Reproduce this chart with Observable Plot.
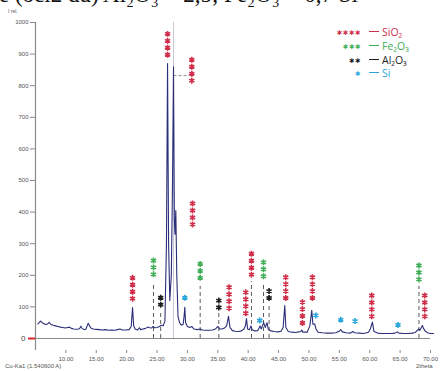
<!DOCTYPE html>
<html><head><meta charset="utf-8">
<script src="https://cdn.jsdelivr.net/npm/d3@7"></script>
<script src="https://cdn.jsdelivr.net/npm/@observablehq/plot@0.6"></script>
<style>
body{margin:0;background:#fff;}
#wrap{position:relative;width:441px;height:371px;overflow:hidden;font-family:"Liberation Sans",Arial,sans-serif;background:#fff;}
#wrap svg{position:absolute;left:0;top:0;}
.ov{position:absolute;white-space:nowrap;}
.lg{position:absolute;white-space:nowrap;font-family:"Open Sans","Noto Sans",sans-serif;font-size:10.5px;line-height:11px;}
.st{display:inline-block;text-align:right;width:30px;font-family:"DejaVu Sans";font-size:6.5px;letter-spacing:0.6px;vertical-align:1px;}
</style></head><body>
<div id="wrap"></div>
<script>
// Diffractogram profile (2theta in degrees, relative intensity)
const theta = [5.4,5.6,5.85,6.1,6.4,6.7,7.0,7.25,7.5,7.9,8.3,8.7,9.1,9.5,9.9,10.3,10.6,10.9,11.3,11.7,12.1,12.3,12.47,12.65,13.0,13.3,13.5,13.67,13.85,14.1,14.5,15.0,15.5,16.0,16.5,17.0,17.5,18.0,18.5,18.9,19.3,19.8,20.4,20.75,20.97,21.15,21.4,21.8,22.1,22.3,22.7,23.1,23.5,23.8,24.1,24.35,24.6,25.0,25.4,25.7,26.0,26.3,26.55,26.73,26.9,27.1,27.35,27.55,27.71,27.85,27.95,28.09,28.25,28.45,28.7,29.0,29.3,29.45,29.57,29.7,30.0,30.4,30.7,31.1,31.6,32.1,32.5,33.0,33.6,34.1,34.6,35.0,35.3,35.7,36.1,36.45,36.76,37.0,37.4,37.9,38.4,38.9,39.3,39.55,39.72,39.9,40.2,40.45,40.65,41.1,41.6,41.95,42.15,42.55,42.8,43.1,43.3,43.7,44.3,44.9,45.4,45.75,46.02,46.2,46.6,47.2,47.8,48.3,48.65,48.82,49.0,49.7,50.15,50.46,50.65,50.95,51.15,51.5,52.2,53.0,53.7,54.4,54.9,55.23,55.5,56.1,56.7,57.0,57.2,57.5,58.3,59.0,59.8,60.1,60.44,60.7,61.3,62.0,62.8,63.6,64.2,64.55,64.8,65.5,66.3,67.0,67.5,67.8,68.06,68.25,68.5,68.67,68.85,69.1,69.5,70.0,70.5];
const intensity = [46,50,55,50,47,44,46,51,45,42,40,38,36,35,33,35,36,32,30,29,30,33,39,32,28,30,40,48,42,33,30,29,28,27,28,26,27,26,28,30,27,27,28,38,98,40,30,27,34,28,30,32,36,34,33,38,34,35,38,42,40,55,300,870,300,120,200,500,860,380,330,405,200,70,50,42,45,70,99,50,38,35,38,30,28,30,27,26,26,27,30,38,30,30,33,40,70,35,25,23,22,24,30,40,63,30,28,40,28,24,25,40,30,50,35,50,30,24,22,21,23,35,104,35,22,20,19,21,22,27,20,20,40,89,45,46,30,20,18,17,17,18,22,28,21,18,17,19,22,18,17,16,20,30,52,22,17,16,16,16,17,21,17,16,16,17,19,25,30,26,35,41,32,24,18,16,16];

// Phase annotation groups (asterisk columns): phase, 2theta, intensity of the top asterisk
const groupPhase = ["SiO2","Fe2O3","Al2O3","SiO2","SiO2","SiO2","Si","Fe2O3","Al2O3","SiO2","SiO2","SiO2","Si","Fe2O3","Al2O3","SiO2","SiO2","SiO2","Si","Si","Si","SiO2","Si","Fe2O3","SiO2"];
const groupTheta = [20.97,24.42,25.6,26.73,30.72,30.84,29.57,32.1,35.17,36.86,39.6,40.54,41.9,42.52,43.44,46.18,48.93,50.57,51.12,55.23,57.58,60.33,64.65,68.1,69.05];
const groupTop   = [192,247,129,964,882,427,129,236,120,162,146,268,57,241,150,194,115,194,73,59,55,136,43,231,136];

// Dashed reference drop lines: 2theta, top intensity
const dropTheta = [24.42,25.6,32.1,35.17,40.54,42.52,43.44,68.1];
const dropTop   = [170,85,165,80,180,170,105,165];
// Leader line from the 27.7 peak to its label column
const leaderX1 = [27.8], leaderX2 = [30.35], leaderY = [832];
// Tall reference line at 27.71
const refTheta = [27.71];

// Legend / phases
const phases = ["SiO2","Fe2O3","Al2O3","Si"];
const phaseLabel = ["SiO₂","Fe₂O₃","Al₂O₃","Si"];
const phaseStars = [4,3,2,1];
const phaseColor = ["#cf2f4a","#3fae57","#1e1e1e","#2aa6dc"];

// Axis ticks
const yTicks = [100,200,300,400,500,600,700,800,900,1000];
const xTicks = [10,15,20,25,30,35,40,45,50,55,60,65,70];

const STEP = 22; // vertical spacing between stacked asterisks (intensity units)
const colorOf = Object.fromEntries(phases.map((p,i)=>[p,phaseColor[i]]));
const countOf = Object.fromEntries(phases.map((p,i)=>[p,phaseStars[i]]));

const profile = theta.map((t,i)=>({t, v:intensity[i]}));
const stars = [];
groupPhase.forEach((p,i)=>{
  for(let k=0;k<countOf[p];k++) stars.push({t:groupTheta[i], v:groupTop[i]-k*STEP, c:colorOf[p]});
});
const drops = dropTheta.map((t,i)=>({t, top:dropTop[i]}));

const chart = Plot.plot({
  width:441, height:371,
  marginLeft:35, marginRight:11, marginTop:22, marginBottom:21,
  x:{domain:[5,70]},
  y:{domain:[-38,1000]},
  style:{fontFamily:"Liberation Sans, Arial, sans-serif", fontSize:"6px", background:"transparent"},
  marks:[
    Plot.ruleY([0],{stroke:"#8a8a8a", strokeWidth:1}),
    Plot.ruleX([5],{stroke:"#8a8a8a", strokeWidth:1.2}),
    Plot.ruleX(refTheta,{y1:0, y2:1000, stroke:"#c9c9d6", strokeWidth:1}),
    Plot.ruleX(drops,{x:"t", y1:0, y2:"top", stroke:"#4a4a4a", strokeWidth:0.9, strokeDasharray:"4,3"}),
    Plot.ruleY(leaderY,{x1:leaderX1[0], x2:leaderX2[0], stroke:"#777", strokeWidth:0.8, strokeDasharray:"3,2"}),
    Plot.axisY(yTicks,{anchor:"left", tickSize:5, tickPadding:2, stroke:"#888", fill:"#555", label:null, tickFormat:d=>String(d)}),
    Plot.axisY([0],{anchor:"left", tickSize:7, tickPadding:3, stroke:"#d8262a", strokeWidth:2, fill:"#444", label:null, fontSize:8, tickFormat:d=>String(d)}),
    Plot.axisX(xTicks,{anchor:"bottom", tickSize:3, tickPadding:3, stroke:"#888", fill:"#555", label:null, tickFormat:d=>d.toFixed(2)}),
    Plot.line(profile,{x:"t", y:"v", stroke:"#2b2e78", strokeWidth:1.1}),
    Plot.dot(stars,{x:"t", y:"v", symbol:"asterisk", r:2.8, stroke:"c", strokeWidth:1.6})
  ]
});
const wrap = document.getElementById("wrap");
wrap.appendChild(chart);

function ov(html, css, cls="ov"){
  const d=document.createElement("div"); d.className=cls; d.innerHTML=html; d.style.cssText=css; wrap.appendChild(d); return d;
}
// Cropped line of document text above the chart (only its lower part is visible)
ov("e (ocl2 du) Al₂O₃ = 2,5; Fe₂O₃ = 0,7 Si","left:-1px;top:-17.5px;font-family:'Liberation Serif',serif;font-size:23px;line-height:23px;color:#111;");
ov("I rel.","left:8px;top:9px;font-size:5px;line-height:5px;color:#555;");
ov("Cu-Ka1 (1.540600 A)","left:5px;top:363px;font-size:6px;color:#555;");
ov("2theta","left:416px;top:363px;font-size:6px;color:#555;");
// Legend
const legTop=[27,41,55,68];
phases.forEach((p,i)=>{
  ov(`<span class="st" style="color:${phaseColor[i]}">${"✱".repeat(phaseStars[i])}</span><span style="display:inline-block;width:10px;border-top:1px solid ${phaseColor[i]};vertical-align:4px;margin:0 3px 0 8px"></span><span style="color:${phaseColor[i]}">${phaseLabel[i]}</span>`,
     `left:331px;top:${legTop[i]}px;`, "lg");
});
</script>
</body></html>
